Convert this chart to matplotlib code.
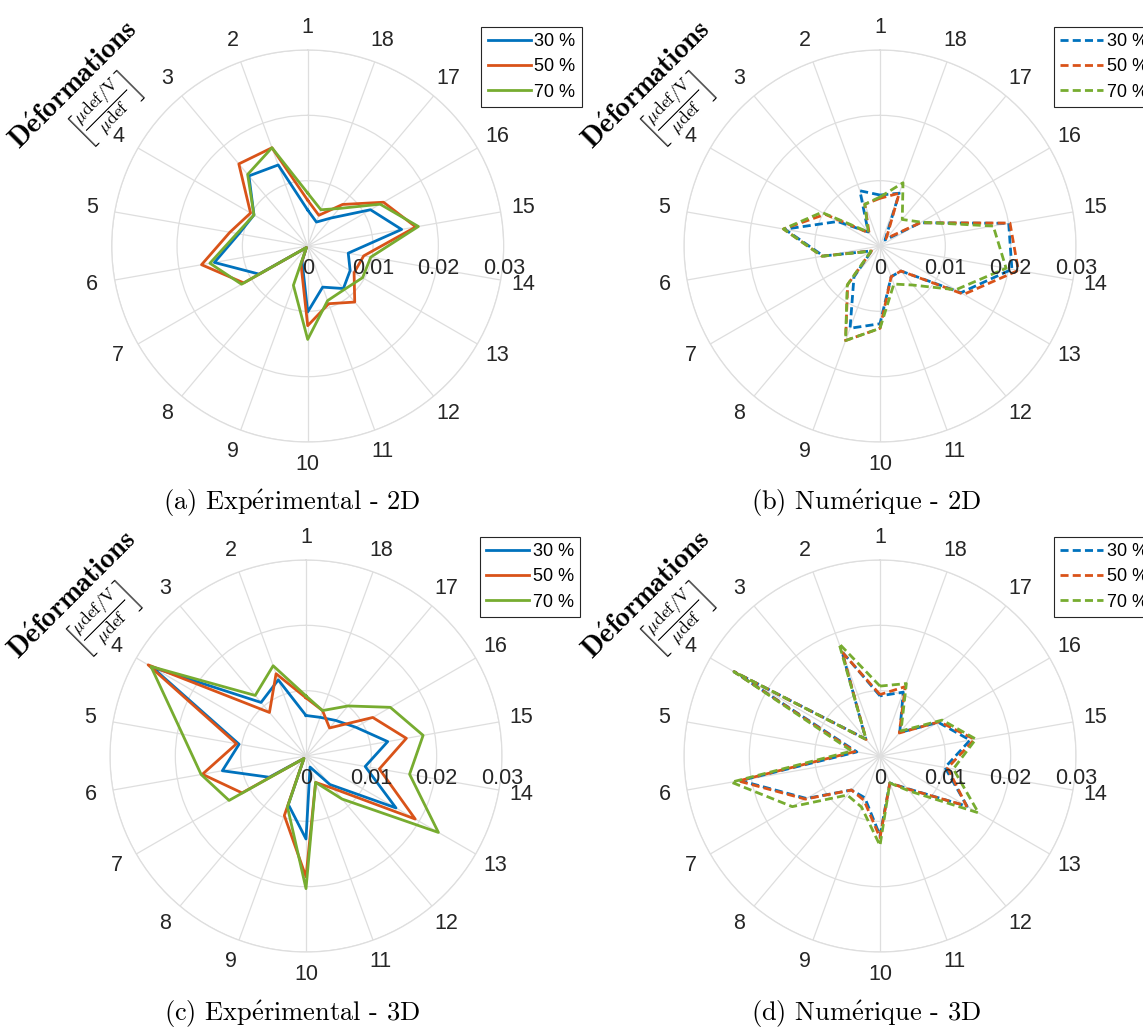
import numpy as np
import matplotlib
matplotlib.use("Agg")
import matplotlib.pyplot as plt
from matplotlib.transforms import offset_copy

plt.rcParams['mathtext.fontset'] = 'cm'
plt.rcParams['font.family'] = ['Liberation Sans', 'DejaVu Sans']

# 18 gauges around the specimen, 1 at the top, counter-clockwise
spokes = list(range(1, 19))
series_labels = ['30 %', '50 %', '70 %']
r_ticks = [0, 0.01, 0.02, 0.03]
r_tick_labels = ['0', '0.01', '0.02', '0.03']

# (a) experimental 2D
a_30 = [0.0055, 0.0132, 0.0140, 0.0095, 0.0107, 0.0145, 0.0086, 0.0003, 0.0025,
        0.0101, 0.0067, 0.0085, 0.0075, 0.0063, 0.0146, 0.0111, 0.0056, 0.0039]
a_50 = [0.0070, 0.0160, 0.0164, 0.0101, 0.0121, 0.0165, 0.0113, 0.0003, 0.0030,
        0.0122, 0.0094, 0.0112, 0.0082, 0.0087, 0.0168, 0.0134, 0.0083, 0.0050]
a_70 = [0.0081, 0.0160, 0.0143, 0.0095, 0.0110, 0.0152, 0.0117, 0.0003, 0.0064,
        0.0143, 0.0089, 0.0087, 0.0097, 0.0098, 0.0172, 0.0128, 0.0075, 0.0059]

# (b) numerical 2D
b_30 = [0.0078, 0.0090, 0.0028, 0.0075, 0.0148, 0.0088, 0.0015, 0.0062, 0.0134,
        0.0119, 0.0050, 0.0050, 0.0143, 0.0205, 0.0200, 0.0071, 0.0012, 0.0086]
b_50 = [0.0073, 0.0068, 0.0026, 0.0097, 0.0150, 0.0090, 0.0015, 0.0077, 0.0154,
        0.0126, 0.0050, 0.0050, 0.0148, 0.0215, 0.0202, 0.0071, 0.0015, 0.0086]
b_70 = [0.0075, 0.0068, 0.0028, 0.0103, 0.0150, 0.0090, 0.0016, 0.0078, 0.0154,
        0.0126, 0.0062, 0.0078, 0.0134, 0.0196, 0.0176, 0.0073, 0.0053, 0.0103]

# (c) experimental 3D
c_30 = [0.0062, 0.0124, 0.0107, 0.0272, 0.0104, 0.0130, 0.0065, 0.0005, 0.0079,
        0.0127, 0.0018, 0.0057, 0.0159, 0.0092, 0.0127, 0.0088, 0.0071, 0.0063]
c_50 = [0.0089, 0.0134, 0.0087, 0.0279, 0.0108, 0.0161, 0.0113, 0.0005, 0.0097,
        0.0185, 0.0043, 0.0065, 0.0193, 0.0114, 0.0156, 0.0118, 0.0056, 0.0074]
c_70 = [0.0092, 0.0147, 0.0121, 0.0274, 0.0192, 0.0163, 0.0136, 0.0005, 0.0083,
        0.0203, 0.0043, 0.0086, 0.0234, 0.0161, 0.0182, 0.0149, 0.0100, 0.0074]

# (d) numerical 3D
d_30 = [0.0092, 0.0170, 0.0034, 0.0258, 0.0036, 0.0217, 0.0130, 0.0068, 0.0068,
        0.0122, 0.0044, 0.0065, 0.0154, 0.0101, 0.0140, 0.0103, 0.0047, 0.0104]
d_50 = [0.0094, 0.0169, 0.0033, 0.0258, 0.0039, 0.0220, 0.0132, 0.0068, 0.0072,
        0.0125, 0.0044, 0.0066, 0.0153, 0.0105, 0.0147, 0.0105, 0.0046, 0.0113]
d_70 = [0.0107, 0.0183, 0.0033, 0.0258, 0.0044, 0.0231, 0.0155, 0.0078, 0.0083,
        0.0137, 0.0044, 0.0070, 0.0174, 0.0114, 0.0149, 0.0110, 0.0050, 0.0118]

colors = ['#0072BD', '#D95319', '#77AC30']
grid_col = '#dedede'
txt_col = '#262626'

W, H = 1143, 1028
R = 196  # outer circle radius in pixels

panels = [
    ((307.7, 246), [a_30, a_50, a_70], '-', '(a) Exp', 'rimental - 2D', (292, 503)),
    ((880, 246), [b_30, b_50, b_70], (0, (2.9, 1.5)), '(b) Num', 'rique - 2D', (866, 503)),
    ((306, 756), [c_30, c_50, c_70], '-', '(c) Exp', 'rimental - 3D', (292, 1014)),
    ((880, 756), [d_30, d_50, d_70], (0, (2.9, 1.5)), '(d) Num', 'rique - 3D', (866, 1014)),
]

fig = plt.figure(figsize=(W / 100, H / 100), dpi=100)

theta = np.deg2rad(20 * (np.array(spokes) - 1))
theta_closed = np.append(theta, theta[0])

for (cx, cy), data, ls, cap1, cap2, (capx, capy) in panels:
    ax = fig.add_axes([(cx - R) / W, 1 - (cy + R) / H, 2 * R / W, 2 * R / H],
                      projection='polar')
    ax.set_theta_zero_location('N')
    ax.set_theta_direction(1)
    ax.set_ylim(0, 0.03)
    ax.set_thetagrids(np.rad2deg(theta), labels=[str(s) for s in spokes])
    ax.set_rgrids([0.01, 0.02, 0.03], labels=['', '', ''])
    ax.grid(True, color=grid_col, linewidth=0.9)
    ax.spines['polar'].set_color(grid_col)
    ax.spines['polar'].set_linewidth(0.9)
    ax.tick_params(axis='x', pad=6, labelsize=15.5, colors=txt_col)

    for vals, col, lab in zip(data, colors, series_labels):
        ax.plot(theta_closed, np.append(vals, vals[0]), color=col, linestyle=ls,
                linewidth=2.0, label=lab)

    trans = offset_copy(ax.transData, fig=fig, x=0, y=-22, units='dots')
    for r, lab in zip(r_ticks, r_tick_labels):
        ax.text(np.deg2rad(270), r, lab, transform=trans, ha='center', va='center',
                fontsize=15.5, color=txt_col, clip_on=False, zorder=5)

    leg_x = cx + 173.5
    leg = ax.legend(loc='upper left', bbox_to_anchor=(leg_x / W, 1 - (cy - 219) / H),
                    bbox_transform=fig.transFigure, borderaxespad=0, fontsize=13,
                    handlelength=2.4, handletextpad=0.2, borderpad=0.35,
                    labelspacing=0.45, fancybox=False, framealpha=1)
    leg.get_frame().set_edgecolor(txt_col)
    leg.get_frame().set_linewidth(0.8)

    # rotated axis label
    lx, ly = cx - 233, cy - 160
    fig.text(lx / W, 1 - ly / H, r'$\mathbf{D\acute{e}formations}$', rotation=45,
             rotation_mode='anchor', ha='center', va='center', fontsize=20.5, color='black')
    fig.text((lx + 31) / W, 1 - (ly + 24) / H,
             r'$\left[\frac{\mu\mathrm{def}/\mathrm{V}}{\mu\mathrm{def}}\right]$',
             rotation=45, rotation_mode='anchor', ha='center', va='center',
             fontsize=18, color='black')

    fig.text(capx / W, 1 - capy / H, cap1 + r'$\mathrm{\acute{e}}$' + cap2,
             family='cmr10', fontsize=19, ha='center', va='center', color='black')

fig.savefig('out.png', dpi=100)
